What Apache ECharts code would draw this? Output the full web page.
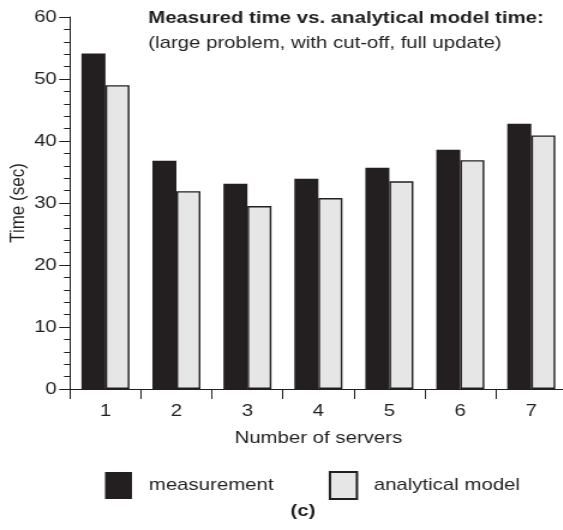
<!DOCTYPE html>
<html>
<head>
<meta charset="utf-8">
<script src="https://cdn.jsdelivr.net/npm/echarts@6/dist/echarts.min.js"></script>
<style>
  html, body { margin: 0; padding: 0; background: #fff; overflow: hidden; }
  /* The figure is laid out on a narrower canvas and widened by 1.2 horizontally. */
  #chart { width: 476px; height: 530px; transform: scaleX(1.2); transform-origin: 0 0; }
</style>
</head>
<body>
<div id="chart"></div>
<script>
// Number of servers on the x axis
const servers = ['1', '2', '3', '4', '5', '6', '7'];
// Measured run time (sec)
const measurement = [54.1, 36.8, 33.1, 33.9, 35.7, 38.6, 42.8];
// Analytical model prediction (sec)
const analyticalModel = [49.0, 31.9, 29.5, 30.8, 33.5, 36.9, 40.9];

const INK = '#231f20';
const FONT = '"Liberation Sans", Arial, Helvetica, sans-serif';

const chart = echarts.init(document.getElementById('chart'), null, { renderer: 'canvas' });

chart.setOption({
  animation: false,
  backgroundColor: '#ffffff',
  textStyle: { fontFamily: FONT, color: INK },
  title: {
    text: 'Measured time vs. analytical model time:',
    subtext: '(large problem, with cut-off, full update)',
    left: 118.5,
    top: 5,
    itemGap: 8,
    textStyle: { fontFamily: FONT, fontSize: 17, fontWeight: 'bold', color: INK },
    subtextStyle: { fontFamily: FONT, fontSize: 17, color: INK }
  },
  legend: {
    left: 82.5,
    top: 466,
    icon: 'rect',
    itemWidth: 22.5,
    itemHeight: 27,
    itemGap: 46,
    textStyle: { fontFamily: FONT, fontSize: 17, color: INK, padding: [0, 0, 0, 9] },
    data: ['measurement', 'analytical model']
  },
  grid: { left: 58.3, top: 17, width: 414, height: 372, outerBoundsMode: 'none', containLabel: false },
  xAxis: {
    type: 'category',
    data: servers,
    name: 'Number of servers',
    nameLocation: 'middle',
    nameGap: 41,
    nameMoveOverlap: false,
    nameTextStyle: { fontFamily: FONT, fontSize: 17, color: INK },
    axisLine: { lineStyle: { color: INK, width: 1 } },
    axisTick: { show: true, length: 10, lineStyle: { color: INK } },
    axisLabel: { fontFamily: FONT, fontSize: 17, color: INK, margin: 14 }
  },
  yAxis: {
    type: 'value',
    min: 0,
    max: 60,
    interval: 10,
    name: 'Time (sec)',
    nameLocation: 'middle',
    nameGap: 34,
    nameMoveOverlap: false,
    nameTextStyle: { fontFamily: FONT, fontSize: 17, color: INK },
    axisLine: { show: true, lineStyle: { color: INK, width: 1 } },
    axisTick: { show: true, length: 9, lineStyle: { color: INK } },
    minorTick: { show: true, splitNumber: 5, length: 5, lineStyle: { color: INK } },
    splitLine: { show: false },
    axisLabel: { fontFamily: FONT, fontSize: 17, color: INK, margin: 11 }
  },
  series: [
    {
      name: 'measurement',
      type: 'bar',
      data: measurement,
      barWidth: 20,
      barGap: '0%',
      itemStyle: { color: INK, borderColor: INK, borderWidth: 0 }
    },
    {
      name: 'analytical model',
      type: 'bar',
      data: analyticalModel,
      barWidth: 20,
      barGap: '0%',
      itemStyle: { color: '#e6e6e6', borderColor: INK, borderWidth: 1.4 }
    }
  ],
  graphic: [
    {
      type: 'text',
      x: 252.5,
      y: 503,
      style: {
        text: '(c)',
        font: 'bold 17px ' + FONT,
        fill: INK,
        textAlign: 'center',
        textVerticalAlign: 'top'
      }
    }
  ]
});
</script>
</body>
</html>
